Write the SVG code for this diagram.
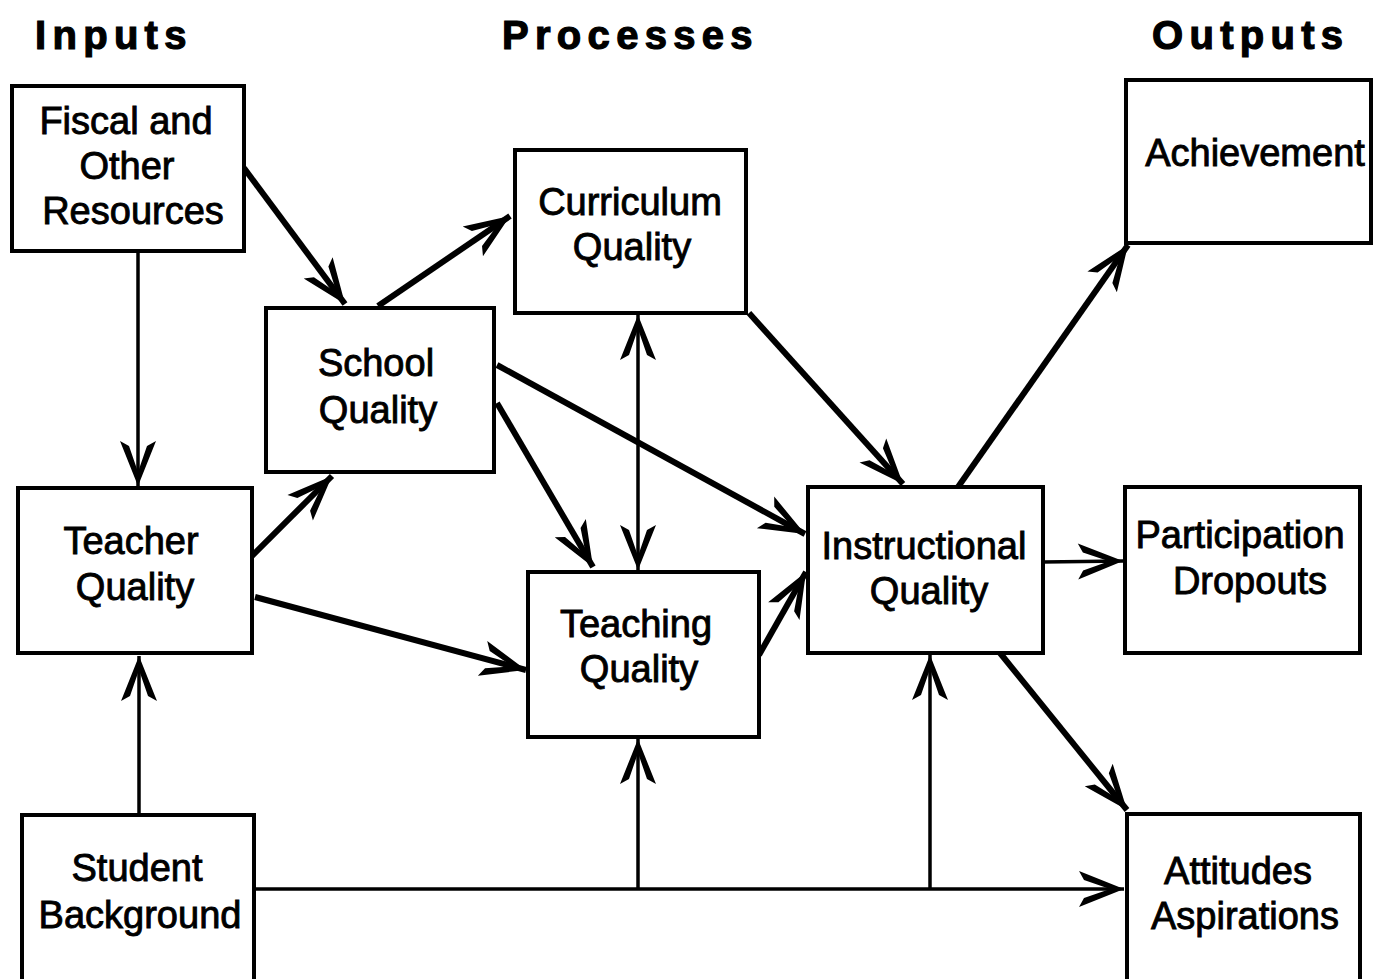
<svg xmlns="http://www.w3.org/2000/svg" width="1373" height="979" viewBox="0 0 1373 979">
<style>
.box{fill:#fff;stroke:#000;stroke-width:4}
.lbl{font-family:"Liberation Sans",Arial,sans-serif;font-size:38px;fill:#000;stroke:#000;stroke-width:0.9;text-anchor:middle}
.hdr{font-family:"Liberation Sans",Arial,sans-serif;font-size:40px;font-weight:bold;letter-spacing:6.3px;fill:#000;stroke:#000;stroke-width:1.2}
.thick{fill:none;stroke:#000;stroke-width:6;marker-end:url(#ah)}
.thin{fill:none;stroke:#000;stroke-width:3.5}
.arr{marker-end:url(#ah)}
</style>
<defs>
<marker id="ah" viewBox="-50 -22 55 44" refX="0" refY="0" markerWidth="55" markerHeight="44" markerUnits="userSpaceOnUse" orient="auto-start-reverse" overflow="visible">
<path d="M0,0 L-45,-18 L-40,-9 L-14,0 L-40,9 L-45,18 Z" fill="#000"/>
</marker>
</defs>
<rect width="1373" height="979" fill="#fff"/>
<g id="headers">
<text class="hdr" x="35" y="49">Inputs</text>
<text class="hdr" x="502" y="49">Processes</text>
<text class="hdr" x="1152" y="49">Outputs</text>
</g>
<g id="connectors">
<path class="thin arr" d="M138,251 L138,486"/>
<path class="thick" d="M244,168 L345,304"/>
<path class="thick" d="M378,306 L510,216"/>
<path class="thick" d="M252,556 L332,476"/>
<path class="thick" d="M255,597 L526,670"/>
<path class="thick" d="M497,403 L593,567"/>
<path class="thick" d="M497,365 L805,534"/>
<path class="thin" d="M638,315 L638,570" marker-start="url(#ah)" marker-end="url(#ah)"/>
<path class="thick" d="M749,313 L903,484"/>
<path class="thick" d="M759,655 L806,572"/>
<path class="thick" d="M958,487 L1128,245"/>
<path class="thin arr" d="M1043,562 L1123,561"/>
<path class="thick" d="M1000,653 L1127,810"/>
<path class="thin arr" d="M254,889 L1124,889"/>
<path class="thin arr" d="M638,889 L638,739"/>
<path class="thin arr" d="M930,889 L930,655"/>
<path class="thin arr" d="M139,815 L139,656"/>
</g>
<g id="fiscal">
<rect class="box" x="12" y="86" width="232" height="165"/>
<text class="lbl" x="126" y="134">Fiscal and</text>
<text class="lbl" x="127" y="179">Other</text>
<text class="lbl" x="133" y="224">Resources</text>
</g>
<g id="school">
<rect class="box" x="266" y="308" width="228" height="164"/>
<text class="lbl" x="376" y="376">School</text>
<text class="lbl" x="378" y="423">Quality</text>
</g>
<g id="curriculum">
<rect class="box" x="515" y="150" width="231" height="163"/>
<text class="lbl" x="630" y="215">Curriculum</text>
<text class="lbl" x="632" y="260">Quality</text>
</g>
<g id="teacher">
<rect class="box" x="18" y="488" width="234" height="165"/>
<text class="lbl" x="131" y="554">Teacher</text>
<text class="lbl" x="135" y="600">Quality</text>
</g>
<g id="teaching">
<rect class="box" x="528" y="572" width="231" height="165"/>
<text class="lbl" x="636" y="637">Teaching</text>
<text class="lbl" x="639" y="682">Quality</text>
</g>
<g id="instructional">
<rect class="box" x="808" y="487" width="235" height="166"/>
<text class="lbl" x="924" y="559">Instructional</text>
<text class="lbl" x="929" y="604">Quality</text>
</g>
<g id="student">
<rect class="box" x="22" y="815" width="232" height="180"/>
<text class="lbl" x="137" y="881">Student</text>
<text class="lbl" x="140" y="928">Background</text>
</g>
<g id="achievement">
<rect class="box" x="1126" y="80" width="245" height="163"/>
<text class="lbl" x="1255" y="166">Achievement</text>
</g>
<g id="participation">
<rect class="box" x="1125" y="487" width="235" height="166"/>
<text class="lbl" x="1240" y="548">Participation</text>
<text class="lbl" x="1250" y="594">Dropouts</text>
</g>
<g id="attitudes">
<rect class="box" x="1127" y="814" width="233" height="180"/>
<text class="lbl" x="1238" y="884">Attitudes</text>
<text class="lbl" x="1245" y="929">Aspirations</text>
</g>
</svg>
